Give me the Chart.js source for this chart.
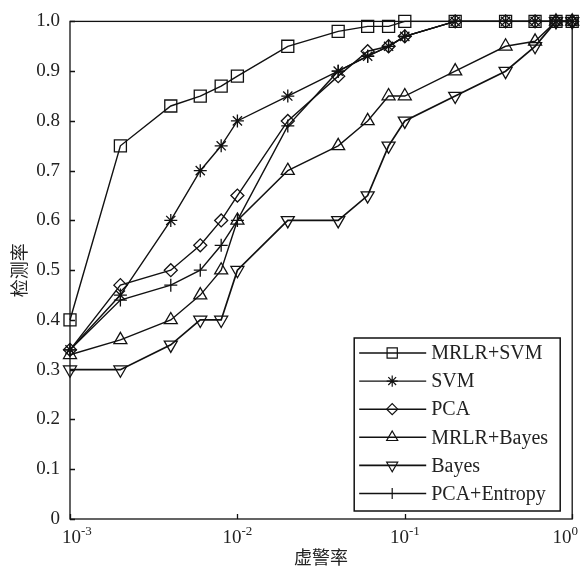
<!DOCTYPE html>
<html>
<head>
<meta charset="utf-8">
<script src="https://cdn.jsdelivr.net/npm/chart.js@4/dist/chart.umd.min.js"></script>
<style>
  html, body { margin: 0; padding: 0; background: #fff; }
  canvas { display: block; }
</style>
</head>
<body>
<canvas id="grafico" width="582" height="571"></canvas>
<script>
// Curvas de detecção: taxa de falso alarme (x, log) x taxa de detecção (y)
const falsoAlarme = [0.001, 0.002, 0.004, 0.006, 0.008, 0.01, 0.02, 0.04, 0.06, 0.08, 0.1, 0.2, 0.4, 0.6, 0.8, 1.0];

const mrlrSvm     = [0.40, 0.75, 0.83, 0.85, 0.87, 0.89, 0.95, 0.98, 0.99, 0.99, 1.00, 1.00, 1.00, 1.00, 1.00, 1.00];
const svm         = [0.34, 0.45, 0.60, 0.70, 0.75, 0.80, 0.85, 0.90, 0.93, 0.95, 0.97, 1.00, 1.00, 1.00, 1.00, 1.00];
const pca         = [0.34, 0.47, 0.50, 0.55, 0.60, 0.65, 0.80, 0.89, 0.94, 0.95, 0.97, 1.00, 1.00, 1.00, 1.00, 1.00];
const mrlrBayes   = [0.33, 0.36, 0.40, 0.45, 0.50, 0.60, 0.70, 0.75, 0.80, 0.85, 0.85, 0.90, 0.95, 0.96, 1.00, 1.00];
const bayes       = [0.30, 0.30, 0.35, 0.40, 0.40, 0.50, 0.60, 0.60, 0.65, 0.75, 0.80, 0.85, 0.90, 0.95, 1.00, 1.00];
const pcaEntropia = [0.34, 0.44, 0.47, 0.50, 0.55, 0.60, 0.79, 0.90, 0.93, 0.95, 0.97, 1.00, 1.00, 1.00, 1.00, 1.00];

const nomesSeries = ["MRLR+SVM", "SVM", "PCA", "MRLR+Bayes", "Bayes", "PCA+Entropy"];
const ticksY = [0, 0.1, 0.2, 0.3, 0.4, 0.5, 0.6, 0.7, 0.8, 0.9, 1.0];
const decadasX = [0.001, 0.01, 0.1, 1];

const tituloX = "虚警率";
const tituloY = "检测率";

const fonteSerif = "'Liberation Serif', 'Times New Roman', serif";
const fonteCJK = "'Noto Sans CJK SC', sans-serif";

// estilo de cada série (marcador e espessura)
const estilos = [
  { ponto: "rect", raio: 8.5, rot: 0, linha: 1.4 },
  { ponto: "star", raio: 6.5, rot: 0, linha: 1.4 },
  { ponto: "rectRot", raio: 6.5, rot: 0, linha: 1.4 },
  { ponto: "triangle", raio: 7.5, rot: 0, linha: 1.4 },
  { ponto: "triangle", raio: 7.5, rot: 180, linha: 1.7 },
  { ponto: "cross", raio: 6.5, rot: 0, linha: 1.4 }
];

const valores = [mrlrSvm, svm, pca, mrlrBayes, bayes, pcaEntropia];

const datasets = valores.map((serie, i) => ({
  label: nomesSeries[i],
  data: falsoAlarme.map((x, j) => ({ x, y: serie[j] })),
  borderColor: "#111",
  borderWidth: estilos[i].linha,
  backgroundColor: "rgba(0,0,0,0)",
  pointStyle: estilos[i].ponto,
  pointRadius: estilos[i].raio,
  pointRotation: estilos[i].rot,
  pointBorderColor: "#111",
  pointBackgroundColor: "rgba(0,0,0,0)",
  pointBorderWidth: 1.3,
  tension: 0,
  fill: false,
  clip: false
}));

// moldura e ticks para dentro
const molduraPlugin = {
  id: "moldura",
  beforeDatasetsDraw(chart) {
    const { ctx, chartArea: a, scales } = chart;
    ctx.save();
    ctx.strokeStyle = "#111";
    ctx.lineWidth = 1.3;
    ctx.strokeRect(a.left, a.top, a.right - a.left, a.bottom - a.top);
    ctx.beginPath();
    ticksY.forEach(v => {
      const py = Math.round(scales.y.getPixelForValue(v)) + 0.5;
      ctx.moveTo(a.left, py);
      ctx.lineTo(a.left + 5, py);
    });
    decadasX.forEach(v => {
      const px = Math.round(scales.x.getPixelForValue(v)) + 0.5;
      ctx.moveTo(px, a.bottom);
      ctx.lineTo(px, a.bottom - 5);
    });
    ctx.stroke();
    ctx.restore();
  },
  afterDraw(chart) {
    const { ctx, scales } = chart;
    ctx.save();
    ctx.fillStyle = "#222";
    ctx.textBaseline = "alphabetic";
    ctx.textAlign = "left";
    // rótulos 10^n
    decadasX.forEach(v => {
      const px = scales.x.getPixelForValue(v);
      const expoente = String(Math.round(Math.log10(v)));
      ctx.font = "19px " + fonteSerif;
      const wb = ctx.measureText("10").width;
      ctx.font = "13px " + fonteSerif;
      const we = ctx.measureText(expoente).width;
      const total = wb + we;
      const x0 = Math.max(62, Math.min(px - total / 2, 578 - total));
      ctx.font = "19px " + fonteSerif;
      ctx.fillText("10", x0, 543);
      ctx.font = "13px " + fonteSerif;
      ctx.fillText(expoente, x0 + wb, 535);
    });
    ctx.restore();
  }
};

// legenda dentro da área do gráfico (canto inferior direito)
const legendaPlugin = {
  id: "legendaInterna",
  afterDatasetsDraw(chart) {
    const { ctx, chartArea: a } = chart;
    const larg = 206, alt = 173;
    const x0 = a.right - 12 - larg;
    const y0 = a.bottom - 8 - alt;
    ctx.save();
    ctx.fillStyle = "#fff";
    ctx.fillRect(x0, y0, larg, alt);
    ctx.strokeStyle = "#111";
    ctx.lineWidth = 1.5;
    ctx.strokeRect(x0, y0, larg, alt);

    chart.data.datasets.forEach((ds, i) => {
      const yy = y0 + 15 + i * 28.1;
      ctx.strokeStyle = "#111";
      ctx.lineWidth = ds.borderWidth;
      ctx.beginPath();
      ctx.moveTo(x0 + 5, yy);
      ctx.lineTo(x0 + 72, yy);
      ctx.stroke();

      ctx.fillStyle = "rgba(0,0,0,0)";
      ctx.lineWidth = 1.2;
      Chart.helpers.drawPoint(ctx, {
        pointStyle: ds.pointStyle,
        radius: ds.pointRadius * 0.85,
        rotation: ds.pointRotation,
        borderWidth: 1.2
      }, x0 + 38, yy);

      ctx.fillStyle = "#222";
      ctx.font = "20px " + fonteSerif;
      ctx.textBaseline = "middle";
      ctx.textAlign = "left";
      ctx.fillText(ds.label, x0 + 77, yy + 1);
    });
    ctx.restore();
  }
};

new Chart(document.getElementById("grafico"), {
  type: "line",
  data: { datasets },
  options: {
    responsive: false,
    animation: false,
    devicePixelRatio: 1,
    events: [],
    layout: { padding: { left: 0, right: 9, top: 17, bottom: 0 } },
    plugins: {
      legend: { display: false },
      tooltip: { enabled: false }
    },
    scales: {
      x: {
        type: "logarithmic",
        min: 0.001,
        max: 1,
        grid: { display: false, drawTicks: false },
        border: { display: false },
        ticks: { display: false },
        title: {
          display: true,
          text: tituloX,
          font: { family: fonteCJK, size: 18 },
          color: "#222",
          padding: { top: 0, bottom: 3 }
        },
        afterFit(scale) { scale.height = 52; }
      },
      y: {
        min: 0,
        max: 1,
        grid: { display: false, drawTicks: false },
        border: { display: false },
        ticks: {
          stepSize: 0.1,
          padding: 10,
          color: "#222",
          font: { family: fonteSerif, size: 19 },
          callback: v => (v === 0 ? "0" : v.toFixed(1))
        },
        title: {
          display: true,
          text: tituloY,
          font: { family: fonteCJK, size: 18 },
          color: "#222",
          padding: { top: 8, bottom: 0 }
        },
        afterFit(scale) { scale.width = 70; }
      }
    }
  },
  plugins: [molduraPlugin, legendaPlugin]
});
</script>
</body>
</html>
